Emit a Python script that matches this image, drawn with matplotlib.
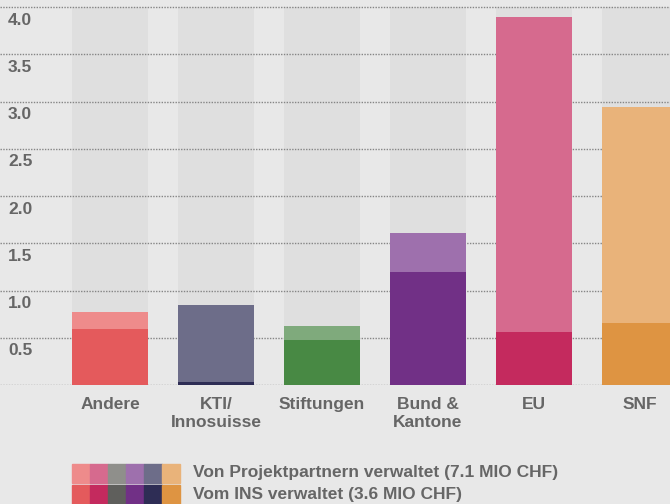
import matplotlib
matplotlib.use("Agg")
import matplotlib.pyplot as plt
from matplotlib.patches import Rectangle
import matplotlib.transforms as mtrans

categories = ["Andere", "KTI/\nInnosuisse", "Stiftungen", "Bund &\nKantone", "EU", "SNF"]
ins_values = [0.59, 0.03, 0.48, 1.20, 0.56, 0.66]          # Vom INS verwaltet
partner_values = [0.18, 0.82, 0.14, 0.41, 3.33, 2.28]      # Von Projektpartnern verwaltet
yticks = [0.5, 1.0, 1.5, 2.0, 2.5, 3.0, 3.5, 4.0]
legend_labels = ["Von Projektpartnern verwaltet (7.1 MIO CHF)", "Vom INS verwaltet (3.6 MIO CHF)"]

light_colors = ["#EE8B8B", "#6D6D89", "#7FAA7C", "#9E70AD", "#D66A8E", "#E9B37A"]
dark_colors = ["#E45A5C", "#2E2D55", "#488944", "#713086", "#C42A5E", "#DE9442"]
legend_light = ["#EE8B8B", "#D66A8E", "#8F8F8B", "#9E70AD", "#6D6D89", "#E9B37A"]
legend_dark = ["#E45A5C", "#C42A5E", "#5F5F5C", "#713086", "#2E2D55", "#DE9442"]

BG = "#E8E8E8"
COLBG = "#DFDFDF"
TXT = "#666666"
FONT = "Liberation Sans"

fig = plt.figure(figsize=(6.70, 5.04), dpi=100)
fig.patch.set_facecolor(BG)
ax = fig.add_axes([0, (504 - 385) / 504, 1.0, 385 / 504])
ax.set_facecolor(BG)

x = list(range(len(categories)))
width = 76 / 106
ax.set_xlim(-110 / 106, (670 - 110) / 106)
ax.set_ylim(0, 385 / 94.5)

# background columns
ax.bar(x, [4.0] * len(x), width=width, color=COLBG, zorder=0)
# gridlines
for v in [0.0] + yticks:
    ax.axhline(v, color="#858585", lw=1.0, ls=(0, (1, 1)), zorder=1)
ax.bar(x, ins_values, width=width, color=dark_colors, zorder=2)
ax.bar(x, partner_values, width=width, bottom=ins_values, color=light_colors, zorder=2)

for s in ax.spines.values():
    s.set_visible(False)
ax.set_xticks([])
ax.set_yticks([])

trans = mtrans.blended_transform_factory(ax.transAxes, ax.transData)
for v in yticks:
    ax.annotate(f"{v:.1f}", xy=(8 / 670, v), xycoords=trans, xytext=(0, -4),
                textcoords="offset points", ha="left", va="top",
                fontsize=12.5, fontweight="bold", color=TXT, family=FONT)

for xi, c in zip(x, categories):
    ax.annotate(c, xy=(xi, 0), xycoords="data", xytext=(0, -8.5), textcoords="offset points",
                ha="center", va="top", fontsize=12.5, fontweight="bold", color=TXT,
                family=FONT, linespacing=1.25, annotation_clip=False)

# legend
sw = 18 / 670
for i in range(6):
    fig.patches.append(Rectangle(((72 + 18 * i) / 670, (504 - 483) / 504), sw, 19 / 504,
                                 transform=fig.transFigure, color=legend_light[i]))
    fig.patches.append(Rectangle(((72 + 18 * i) / 670, 0), sw, 19 / 504,
                                 transform=fig.transFigure, color=legend_dark[i]))
fig.text(193 / 670, (504 - 473) / 504, legend_labels[0], ha="left", va="center",
         fontsize=12.5, fontweight="bold", color=TXT, family=FONT)
fig.text(193 / 670, (504 - 495) / 504, legend_labels[1], ha="left", va="center",
         fontsize=12.5, fontweight="bold", color=TXT, family=FONT)

fig.savefig("out.png", dpi=100, facecolor=BG)
